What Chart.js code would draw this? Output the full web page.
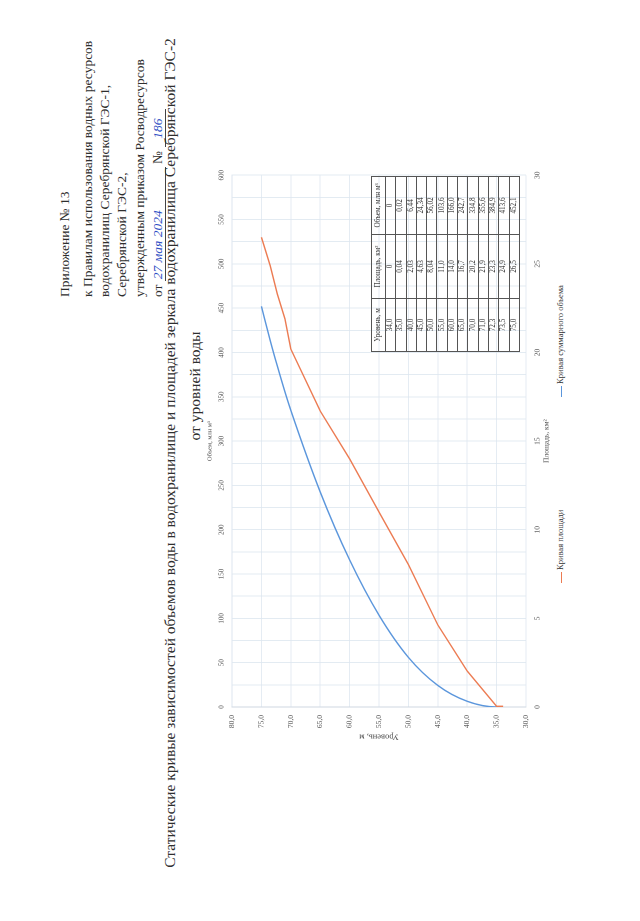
<!DOCTYPE html>
<html lang="ru">
<head>
<meta charset="utf-8">
<title>Статические кривые</title>
<script src="https://cdn.jsdelivr.net/npm/chart.js@4.4.1/dist/chart.umd.min.js"></script>
<style>
html,body{margin:0;padding:0;background:#fff;}
body{width:640px;height:921px;overflow:hidden;position:relative;}
#page{position:absolute;left:0;top:0;width:921px;height:640px;transform-origin:0 0;transform:translate(0,921px) rotate(-90deg);font-family:"Liberation Serif","DejaVu Serif",serif;color:#2e2e2e;}
.ann{position:absolute;left:624px;font-size:13.5px;line-height:16px;white-space:nowrap;}
.hand{color:#2f4fc4;font-style:italic;border-bottom:1px solid #444;display:inline-block;line-height:14px;}
.ttl{position:absolute;text-align:center;font-size:15.5px;line-height:18px;white-space:nowrap;}
#chartBox{position:absolute;left:176px;top:202px;width:581px;height:349px;}
#tbl{position:absolute;left:569px;top:371px;border-collapse:collapse;font-size:7.2px;color:#333;}
#tbl td{border:0.8px solid #555;text-align:center;padding:0;height:9.3px;line-height:9px;white-space:nowrap;}
#tbl tr.h td{height:13px;}
.leg{position:absolute;font-size:8.5px;line-height:10px;white-space:nowrap;color:#333;}
.leg i{display:inline-block;width:11px;height:0;border-top:1.4px solid;vertical-align:middle;margin-right:2px;}
</style>
</head>
<body>
<div id="page">
  <div class="ann" style="top:57px">Приложение № 13</div>
  <div class="ann" style="top:80px">к Правилам использования водных ресурсов</div>
  <div class="ann" style="top:97px">водохранилищ Серебрянской ГЭС-1,</div>
  <div class="ann" style="top:114px">Серебрянской ГЭС-2,</div>
  <div class="ann" style="top:132px">утвержденным приказом Росводресурсов</div>
  <div class="ann" style="top:150px">от <span class="hand" style="width:112px;text-align:left;padding-left:2px">27 мая 2024</span> № <span class="hand" style="width:38px;text-align:center">186</span></div>

  <div class="ttl" style="left:0;width:936px;top:161px">Статические кривые зависимостей объемов воды в водохранилище и площадей зеркала водохранилища Серебрянской ГЭС-2</div>
  <div class="ttl" style="left:435px;width:200px;top:186px">от уровней воды</div>

  <div id="chartBox"><canvas id="c" width="581" height="349"></canvas></div>

  <table id="tbl"></table>

  <div class="leg" style="left:338px;top:555px"><i style="border-color:#ec7b52"></i><span id="l0"></span></div>
  <div class="leg" style="left:524px;top:555px"><i style="border-color:#5b96dc"></i><span id="l1"></span></div>
</div>
<script>
// ---- data ----
const levels  = [34.0, 35.0, 40.0, 45.0, 50.0, 55.0, 60.0, 65.0, 70.0, 71.0, 72.3, 73.5, 75.0];
const areas   = [0, 0.04, 2.03, 4.63, 8.04, 11.0, 14.0, 16.7, 20.2, 21.9, 23.3, 24.9, 26.5];
const volumes = [0, 0.02, 6.44, 24.34, 56.02, 103.6, 166.0, 242.7, 334.8, 355.6, 384.9, 413.6, 452.1];
const levelTicks  = [30, 35, 40, 45, 50, 55, 60, 65, 70, 75, 80];
const areaTicks   = [0, 5, 10, 15, 20, 25, 30];
const volumeTicks = [0, 50, 100, 150, 200, 250, 300, 350, 400, 450, 500, 550, 600];
const seriesNames = ['Кривая площади', 'Кривая суммарного объема'];
const tableHeaders = ['Уровень, м', 'Площадь, км²', 'Объем, млн м³'];
const axisTitles = {level: 'Уровень, м', area: 'Площадь, км²', volume: 'Объем, млн м³'};

const ORANGE = '#ec7b52', BLUE = '#5b96dc', GRID = '#dde6ef', TICK = '#4a4a4a';
const comma = (v, d) => v === 0 ? '0' : v.toFixed(d).replace('.', ',');

// table
const tbl = document.getElementById('tbl');
const colW = [52, 63, 57];
let html = '<tr class="h">' + tableHeaders.map((h, i) => `<td style="width:${colW[i]}px">${h}</td>`).join('') + '</tr>';
levels.forEach((l, i) => {
  html += `<tr><td>${comma(l, 1)}</td><td>${comma(areas[i], areas[i] < 10 ? 2 : 1)}</td><td>${comma(volumes[i], volumes[i] < 100 ? 2 : 1)}</td></tr>`;
});
tbl.innerHTML = html;
document.getElementById('l0').textContent = seriesNames[0];
document.getElementById('l1').textContent = seriesNames[1];

const serif = "'Liberation Serif', serif";
new Chart(document.getElementById('c'), {
  type: 'scatter',
  data: {
    datasets: [
      {label: seriesNames[0], data: levels.map((l, i) => ({x: areas[i], y: l})), xAxisID: 'xa', yAxisID: 'y',
       showLine: true, borderColor: ORANGE, backgroundColor: ORANGE, borderWidth: 1.4, pointRadius: 0, tension: 0, fill: false},
      {label: seriesNames[1], data: levels.map((l, i) => ({x: volumes[i], y: l})), xAxisID: 'xv', yAxisID: 'y',
       showLine: true, borderColor: BLUE, backgroundColor: BLUE, borderWidth: 1.4, pointRadius: 0, cubicInterpolationMode: 'monotone', fill: false}
    ]
  },
  options: {
    indexAxis: 'y',
    responsive: false, animation: false, devicePixelRatio: 2,
    layout: {padding: {left: 0, top: 0, right: 10, bottom: 0}},
    plugins: {legend: {display: false}, tooltip: {enabled: false}},
    scales: {
      xa: {
        type: 'linear', position: 'bottom', min: areaTicks[0], max: areaTicks[areaTicks.length - 1],
        afterFit: s => { s.height = 25; },
        ticks: {stepSize: 5, padding: 7, color: TICK, font: {family: serif, size: 7.5}, maxRotation: 0,
                callback: v => areaTicks.includes(v) ? String(v) : ''},
        grid: {display: false, drawTicks: false},
        border: {display: false},
        title: {display: true, text: axisTitles.area, color: TICK, font: {family: serif, size: 7.5}, padding: {top: 0, bottom: 0}}
      },
      xv: {
        type: 'linear', position: 'top', min: volumeTicks[0], max: volumeTicks[volumeTicks.length - 1],
        afterFit: s => { s.height = 30; },
        ticks: {stepSize: 25, padding: 6, color: TICK, font: {family: serif, size: 7}, maxRotation: 0, autoSkip: false,
                callback: v => volumeTicks.includes(v) ? String(v) : ''},
        grid: {color: GRID, lineWidth: 0.8, drawTicks: false},
        border: {display: true, color: GRID},
        title: {display: true, text: axisTitles.volume, color: TICK, font: {family: serif, size: 6.5}, padding: {top: 4, bottom: 0}}
      },
      y: {
        type: 'linear', position: 'left', min: levelTicks[0], max: levelTicks[levelTicks.length - 1],
        afterFit: s => { s.width = 38; },
        ticks: {stepSize: 5, padding: 8, color: TICK, font: {family: serif, size: 7.5},
                callback: v => levelTicks.includes(v) ? comma(v, 1) : ''},
        grid: {color: GRID, lineWidth: 0.8, drawTicks: false},
        border: {display: true, color: '#cfd8e2'},
        title: {display: true, text: axisTitles.level, color: TICK, font: {family: serif, size: 8.5}, padding: {top: 3, bottom: 0}}
      }
    }
  }
});
</script>
</body>
</html>
